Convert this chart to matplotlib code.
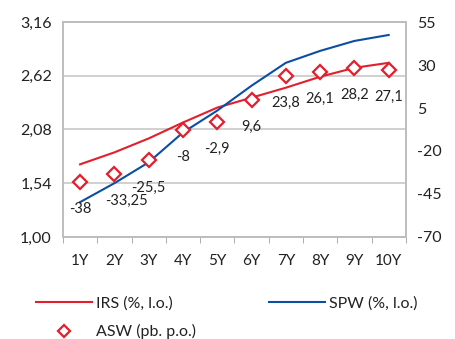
"""
Yield curve chart: IRS and SPW (left axis, %) with ASW (right axis, bp).
"""

import matplotlib
matplotlib.use('Agg')
import matplotlib.pyplot as plt

# Data
tenors = ['1Y', '2Y', '3Y', '4Y', '5Y', '6Y', '7Y', '8Y', '9Y', '10Y']
irs = [1.73, 1.85, 1.99, 2.15, 2.30, 2.40, 2.50, 2.61, 2.70, 2.75]
spw = [1.35, 1.54, 1.75, 2.05, 2.27, 2.52, 2.75, 2.87, 2.97, 3.03]
asw = [-38, -33.25, -25.5, -8, -2.9, 9.6, 23.8, 26.1, 28.2, 27.1]
asw_labels = ['-38', '-33,25', '-25,5', '-8', '-2,9', '9,6', '23,8', '26,1', '28,2', '27,1']

left_ticks = [1.00, 1.54, 2.08, 2.62, 3.16]
left_tick_labels = ['1,00', '1,54', '2,08', '2,62', '3,16']
right_ticks = [-70, -45, -20, 5, 30, 55]
right_tick_labels = ['-70', '-45', '-20', '5', '30', '55']

RED = '#E31E2D'
BLUE = '#0B4EA2'
GRID = '#D0D0D0'
TEXT = '#222222'

plt.rcParams['font.family'] = ['Lato', 'DejaVu Sans']
plt.rcParams['axes.unicode_minus'] = False

fig = plt.figure(figsize=(4.56, 3.39), dpi=100)
ax = fig.add_axes([0.138, 0.301, 0.752, 0.634])
ax2 = ax.twinx()

x = list(range(len(tenors)))

# Lines on the left axis
l_irs, = ax.plot(x, irs, color=RED, lw=1.5, label='IRS (%, l.o.)')
l_spw, = ax.plot(x, spw, color=BLUE, lw=1.5, label='SPW (%, l.o.)')

# ASW markers on the right axis
m_asw, = ax2.plot(x, asw, linestyle='none', marker='D', markersize=7,
                  markerfacecolor='white', markeredgecolor=RED,
                  markeredgewidth=1.6, label='ASW (pb. p.o.)')
for i, (v, lab) in enumerate(zip(asw, asw_labels)):
    dx = 12 if i == 1 else 0
    ax2.annotate(lab, (i, v), xytext=(dx, -27), textcoords='offset pixels',
                 ha='center', va='center', fontsize=10.5, color=TEXT)

# Axes limits and ticks
ax.set_xlim(-0.5, len(tenors) - 0.5)
ax.set_ylim(1.00, 3.16)
ax2.set_ylim(-70, 55)
ax.set_yticks(left_ticks)
ax.set_yticklabels(left_tick_labels)
ax2.set_yticks(right_ticks)
ax2.set_yticklabels(right_tick_labels)

ax.set_xticks(x)
ax.set_xticklabels(tenors)
ax.set_xticks([i - 0.5 for i in range(len(tenors) + 1)], minor=True)
ax.tick_params(axis='x', which='major', length=0, pad=12, labelsize=11, colors=TEXT)
ax.tick_params(axis='x', which='minor', length=4, color='#A0A0A0', direction='out')
ax.tick_params(axis='y', length=0, pad=8, labelsize=11.5, colors=TEXT)
ax2.tick_params(axis='y', length=0, pad=8, labelsize=11.5, colors=TEXT)

# Grid and frame
ax.grid(axis='y', color=GRID, lw=1.4)
ax.set_axisbelow(True)
for a in (ax, ax2):
    for s in a.spines.values():
        s.set_color('#BDBDBD')
        s.set_linewidth(1.2)

# Legend below the plot
leg = fig.legend([l_irs, m_asw, l_spw],
                 ['IRS (%, l.o.)', 'ASW (pb. p.o.)', 'SPW (%, l.o.)'],
                 ncol=2, loc='upper left', bbox_to_anchor=(0.065, 0.145),
                 frameon=False, fontsize=11.5, handlelength=3.5, handletextpad=0.25,
                 columnspacing=4.6, labelspacing=0.85, borderaxespad=0,
                 labelcolor=TEXT, markerscale=0.85)

fig.savefig('out.png', dpi=100)
